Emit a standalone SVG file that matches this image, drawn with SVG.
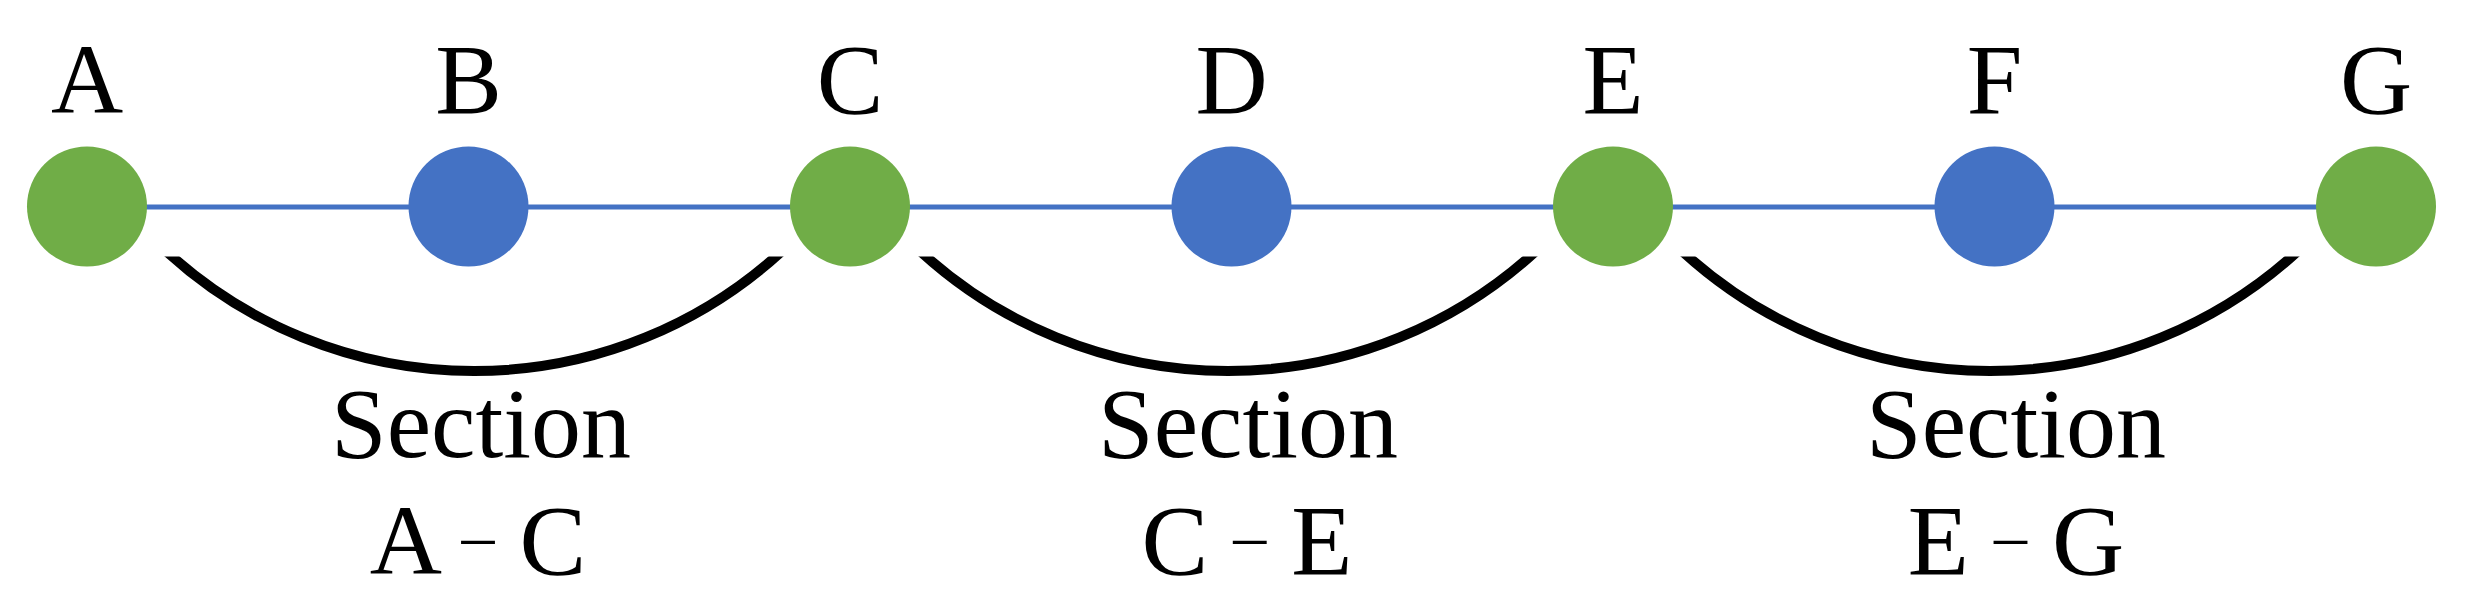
<svg xmlns="http://www.w3.org/2000/svg" width="2475" height="616" viewBox="0 0 2475 616">
  <style>
    .lbl { font-family: "Liberation Serif", "Times New Roman", serif; font-size: 100px; fill: #000; text-anchor: middle; }
    .dash { font-size: 66px; }
    .green { fill: #70AD47; }
    .blue { fill: #4472C4; }
    .line { stroke: #4472C4; stroke-width: 5; fill: none; }
    .arc { stroke: #000; stroke-width: 10; fill: none; }
  </style>
  <defs>
    <clipPath id="arcClip">
      <rect x="0" y="256.5" width="2475" height="360"/>
    </clipPath>
  </defs>
  <rect width="2475" height="616" fill="#fff"/>

  <g id="connectors">
    <line class="line" x1="87" y1="207" x2="2376" y2="207"/>
    <g clip-path="url(#arcClip)">
      <path class="arc" d="M 164.9 250 A 455.2 455.2 0 0 0 783.1 250"/>
      <path class="arc" d="M 918.9 250 A 455.2 455.2 0 0 0 1537.1 250"/>
      <path class="arc" d="M 1680.9 250 A 455.2 455.2 0 0 0 2299.1 250"/>
    </g>
  </g>

  <g id="node-A"><circle class="green" cx="87" cy="206.5" r="60"/><text class="lbl" x="87" y="113">A</text></g>
  <g id="node-B"><circle class="blue" cx="468.5" cy="206.5" r="60"/><text class="lbl" x="468.5" y="113">B</text></g>
  <g id="node-C"><circle class="green" cx="850" cy="206.5" r="60"/><text class="lbl" x="850" y="113">C</text></g>
  <g id="node-D"><circle class="blue" cx="1231.5" cy="206.5" r="60"/><text class="lbl" x="1231.5" y="113">D</text></g>
  <g id="node-E"><circle class="green" cx="1613" cy="206.5" r="60"/><text class="lbl" x="1613" y="113">E</text></g>
  <g id="node-F"><circle class="blue" cx="1994.5" cy="206.5" r="60"/><text class="lbl" x="1994.5" y="113">F</text></g>
  <g id="node-G"><circle class="green" cx="2376" cy="206.5" r="60"/><text class="lbl" x="2376" y="113">G</text></g>

  <g id="section-AC">
    <text class="lbl" x="481" y="457">Section</text>
    <text class="lbl" x="478" y="574">A <tspan class="dash" baseline-shift="16">–</tspan> C</text>
  </g>
  <g id="section-CE">
    <text class="lbl" x="1248" y="457">Section</text>
    <text class="lbl" x="1247" y="574">C <tspan class="dash" baseline-shift="16">–</tspan> E</text>
  </g>
  <g id="section-EG">
    <text class="lbl" x="2016" y="457">Section</text>
    <text class="lbl" x="2016" y="574">E <tspan class="dash" baseline-shift="16">–</tspan> G</text>
  </g>
</svg>
